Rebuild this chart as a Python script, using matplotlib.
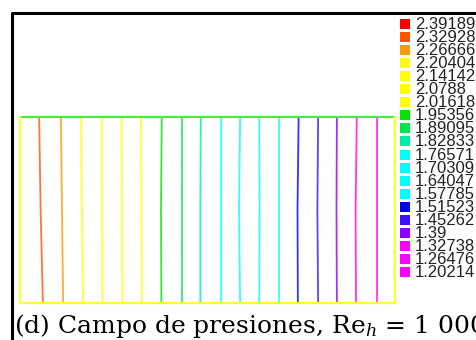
import numpy as np
import matplotlib
matplotlib.use('Agg')
import matplotlib.pyplot as plt

# niveles de presion (leyenda)
niveles = ['2.39189', '2.32928', '2.26666', '2.20404', '2.14142', '2.0788', '2.01618',
           '1.95356', '1.89095', '1.82833', '1.76571', '1.70309', '1.64047', '1.57785',
           '1.51523', '1.45262', '1.39', '1.32738', '1.26476', '1.20214']
colores = ['#ff0000', '#ff5500', '#ff9a00', '#ffff00', '#ffff00', '#ffff00', '#ffff00',
           '#00e600', '#00e64a', '#00eea0', '#00ffff', '#00ffff', '#00ffff', '#00ffff',
           '#0000ff', '#3c10ff', '#8c00ff', '#ff00ff', '#ff00ff', '#ff00ff']

# isolineas (niveles 2.32928 ... 1.26476), posicion x en el dominio (0-1)
# arriba, en el medio y abajo
x_arriba = [0.051, 0.109, 0.163, 0.219, 0.271, 0.323, 0.378, 0.431, 0.482,
            0.535, 0.587, 0.638, 0.691, 0.743, 0.795, 0.845, 0.898, 0.951]
x_medio = [0.055, 0.112, 0.165, 0.219, 0.272, 0.324, 0.376, 0.431, 0.481,
           0.535, 0.584, 0.639, 0.691, 0.740, 0.793, 0.844, 0.895, 0.951]
x_abajo = [0.061, 0.115, 0.168, 0.220, 0.273, 0.325, 0.377, 0.431, 0.481,
           0.535, 0.587, 0.638, 0.691, 0.741, 0.795, 0.845, 0.896, 0.951]
y_puntos = [1.0, 0.5, 0.0]

plt.rcParams['mathtext.fontset'] = 'dejavuserif'

W, H = 477, 340
fig = plt.figure(figsize=(W / 100, H / 100), dpi=100)
fig.patch.set_facecolor('white')

# dominio
ax = fig.add_axes([20 / W, 1 - 303 / H, 375 / W, 186 / H])
ax.set_xlim(0, 1)
ax.set_ylim(0, 1)
ax.axis('off')
for i in range(len(x_arriba)):
    ax.plot([x_arriba[i], x_medio[i], x_abajo[i]], y_puntos,
            color=colores[i + 1], lw=1.3, alpha=0.8, clip_on=False)
ax.plot([0, 1], [1, 1], color='#44ee44', lw=1.6, clip_on=False)
ax.plot([0, 0, 1, 1], [1, 0, 0, 1], color='#ffff30', lw=1.6, clip_on=False)

# capa en pixeles: marco, leyenda, titulo
ov = fig.add_axes([0, 0, 1, 1], facecolor='none')
ov.set_xlim(0, W)
ov.set_ylim(H, 0)
ov.axis('off')
ov.plot([12.5, 12.5, W], [H, 12.5, 12.5], color='black', lw=2.2)

for i, (lab, c) in enumerate(zip(niveles, colores)):
    y = 24 + i * 13.05
    ov.scatter([405], [y], marker='s', s=52, color=c, linewidths=0)
    ov.text(415, y + 0.5, lab, fontsize=12, family='Liberation Sans',
            va='center', ha='left', color='#222222')

ov.text(14, 333.5, r'(d) Campo de presiones, Re$_{h}$ = 1 000', fontsize=18,
        family='DejaVu Serif', va='baseline', ha='left', color='black')

plt.savefig('out.png', dpi=100)
